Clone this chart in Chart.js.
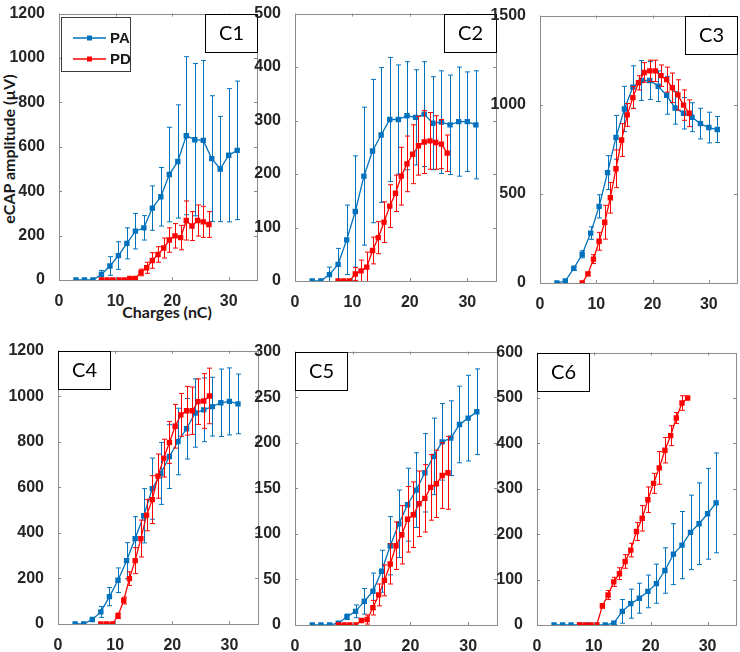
<!DOCTYPE html>
<html>
<head>
<meta charset="utf-8">
<script src="https://cdn.jsdelivr.net/npm/chart.js@4.4.0/dist/chart.umd.min.js"></script>
<style>
  body { margin: 0; background: #fff; width: 740px; height: 652px; position: relative; overflow: hidden; }
  canvas { position: absolute; }
  .title { position: absolute; font-family: Lato, "Noto Sans", sans-serif; font-weight: bold; font-size: 16px; color: #1a1a1a; white-space: nowrap; text-align: center; }
  #ytitle { width: 220px; left: -101px; top: 138px; line-height: 22px; transform: rotate(-90deg); }
  #xtitle { width: 200px; left: 67px; top: 302px; line-height: 20px; }
</style>
</head>
<body>
<div class="title" id="ytitle">eCAP amplitude (µV)</div>
<div class="title" id="xtitle">Charges (nC)</div>
<script>
// charges (nC) for the two stimulation modes
const paCharge = [3, 4.5, 6, 7.5, 9, 10.5, 12, 13.5, 15, 16.5, 18, 19.5, 21, 22.5, 24, 25.5, 27, 28.5, 30, 31.5]
const pdCharge = [7.5, 8.5, 9.5, 10.5, 11.5, 12.5, 13.5, 14.5, 15.5, 16.5, 17.5, 18.5, 19.5, 20.5, 21.5, 22.5, 23.5, 24.5, 25.5, 26.5]
const xTicks = [0, 10, 20, 30]

// eCAP amplitude (uV), mean and error
const c1PA = [0, 0, 0, 25, 63, 110, 165, 220, 235, 324, 375, 475, 534, 650, 632, 629, 547, 500, 562, 584]
const c1PAErr = [0, 0, 0, 18, 42, 62, 70, 80, 55, 100, 132, 213, 255, 356, 343, 360, 283, 237, 300, 312]
const c1PD = [0, 0, 0, 0, 0, 7, 7, 34, 55, 88, 115, 144, 180, 199, 191, 268, 243, 268, 262, 250]
const c1PDErr = [0, 0, 0, 0, 0, 5, 5, 15, 25, 35, 35, 45, 55, 55, 55, 88, 65, 70, 70, 58]

const c2PA = [0, 0, 12, 31, 77, 130, 196, 243, 273, 302, 302, 309, 306, 312, 295, 297, 292, 298, 298, 292]
const c2PAErr = [0, 0, 14, 30, 65, 104, 129, 134, 126, 116, 102, 101, 89, 98, 87, 96, 93, 102, 93, 101]
const c2PD = [0, 0, 0, 13, 19, 26, 57, 81, 110, 140, 164, 196, 219, 237, 253, 260, 262, 259, 256, 239]
const c2PDErr = [0, 0, 0, 12, 20, 28, 25, 30, 38, 40, 34, 54, 52, 55, 55, 59, 53, 50, 46, 34]

const c3PA = [0, 11, 82, 161, 280, 430, 619, 817, 976, 1099, 1136, 1136, 1104, 1053, 982, 952, 930, 894, 872, 861]
const c3PAErr = [0, 8, 12, 20, 35, 65, 95, 123, 127, 119, 112, 106, 86, 106, 91, 88, 81, 86, 86, 73]
const c3PD = [0, 51, 134, 234, 341, 478, 641, 802, 943, 1040, 1123, 1181, 1190, 1190, 1163, 1141, 1095, 1055, 998, 952]
const c3PDErr = [0, 10, 25, 50, 95, 86, 106, 92, 64, 62, 40, 55, 60, 60, 60, 70, 83, 85, 85, 75]

const c4PA = [0, 0, 20, 53, 120, 192, 278, 375, 475, 594, 661, 735, 801, 857, 926, 940, 954, 971, 977, 966]
const c4PAErr = [0, 0, 8, 24, 40, 54, 79, 96, 119, 134, 136, 140, 146, 133, 150, 140, 129, 148, 147, 131]
const c4PD = [0, 0, 0, 36, 103, 199, 278, 375, 478, 546, 649, 728, 797, 868, 918, 936, 936, 976, 979, 1001]
const c4PDErr = [0, 0, 0, 12, 15, 30, 57, 81, 69, 105, 97, 83, 92, 96, 94, 107, 104, 100, 120, 122]

const c5PA = [0, 0, 0, 2, 9, 15, 26, 37, 59, 87, 111, 132, 148, 167, 185, 201, 205, 220, 227, 234]
const c5PAErr = [0, 0, 0, 1, 3, 7, 14, 20, 23, 32, 37, 40, 41, 43, 42, 42, 41, 42, 47, 47]
const c5PD = [0, 0, 0, 0, 5, 6, 19, 33, 49, 67, 87, 99, 116, 121, 133, 139, 151, 155, 164, 167]
const c5PDErr = [0, 0, 0, 0, 2, 5, 8, 12, 17, 22, 26, 32, 36, 36, 36, 37, 36, 37, 36, 40]

const c6PA = [0, 0, 0, 0, 0, 0, 0, 4, 30, 47, 59, 74, 91, 120, 156, 176, 204, 223, 245, 269]
const c6PAErr = [0, 0, 0, 0, 0, 0, 0, 3, 26, 32, 33, 36, 43, 50, 67, 74, 82, 90, 100, 110]
const c6PD = [0, 0, 0, 0, 42, 66, 95, 113, 140, 165, 206, 235, 276, 312, 346, 385, 417, 456, 489, 500]
const c6PDErr = [0, 0, 0, 0, 5, 10, 10, 13, 15, 15, 20, 28, 28, 22, 36, 28, 22, 12, 16, 0]

const BLUE = '#0072bd'
const RED = '#ff0000'
const TICK_FONT = { family: '"Liberation Sans", Arial, sans-serif', size: 16, weight: 'bold' }

// plot area of each panel in page pixels: left, top, right, bottom
const panels = [
  { name: 'C1', box: [59, 7, 258, 280], yMax: 1200, yStep: 200, pa: c1PA, paErr: c1PAErr, pd: c1PD, pdErr: c1PDErr, tag: 'right', legend: true },
  { name: 'C2', box: [295, 7, 497, 281], yMax: 500, yStep: 100, pa: c2PA, paErr: c2PAErr, pd: c2PD, pdErr: c2PDErr, tag: 'right' },
  { name: 'C3', box: [540, 9, 738, 283], yMax: 1500, yStep: 500, pa: c3PA, paErr: c3PAErr, pd: c3PD, pdErr: c3PDErr, tag: 'right' },
  { name: 'C4', box: [58, 344, 259, 624], yMax: 1200, yStep: 200, pa: c4PA, paErr: c4PAErr, pd: c4PD, pdErr: c4PDErr, tag: 'left' },
  { name: 'C5', box: [295, 345, 498, 625], yMax: 300, yStep: 50, pa: c5PA, paErr: c5PAErr, pd: c5PD, pdErr: c5PDErr, tag: 'left' },
  { name: 'C6', box: [537, 346, 737, 625], yMax: 600, yStep: 100, pa: c6PA, paErr: c6PAErr, pd: c6PD, pdErr: c6PDErr, tag: 'left' }
]

const PAD_L = 52, PAD_T = 9, PAD_R = 3, PAD_B = 26

const errorBars = {
  id: 'errorBars',
  afterDatasetDraw(chart, args) {
    const ds = chart.data.datasets[args.index]
    if (!ds.errors) return
    const { ctx, chartArea } = chart
    const x = chart.scales.x, y = chart.scales.y
    ctx.save()
    ctx.beginPath()
    ctx.rect(chartArea.left, chartArea.top, chartArea.width, chartArea.height)
    ctx.clip()
    ctx.strokeStyle = ds.borderColor
    ctx.lineWidth = 1
    ctx.beginPath()
    ds.data.forEach((p, i) => {
      const e = ds.errors[i]
      if (!e) return
      const px = Math.round(x.getPixelForValue(p.x)) + 0.5
      const top = y.getPixelForValue(p.y + e)
      const bot = y.getPixelForValue(p.y - e)
      ctx.moveTo(px, top); ctx.lineTo(px, bot)
      ctx.moveTo(px - 2.5, top); ctx.lineTo(px + 2.5, top)
      ctx.moveTo(px - 2.5, bot); ctx.lineTo(px + 2.5, bot)
    })
    ctx.stroke()
    ctx.restore()
  }
}

const frame = {
  id: 'frame',
  afterDraw(chart, args, opts) {
    const { ctx, chartArea: a } = chart
    const x = chart.scales.x, y = chart.scales.y
    ctx.save()
    ctx.strokeStyle = '#8c8c8c'
    ctx.lineWidth = 1
    ctx.strokeRect(Math.round(a.left) + 0.5, Math.round(a.top) + 0.5, Math.round(a.width), Math.round(a.height))
    ctx.beginPath()
    x.ticks.forEach(t => {
      const px = Math.round(x.getPixelForValue(t.value)) + 0.5
      ctx.moveTo(px, a.bottom); ctx.lineTo(px, a.bottom - 3)
      ctx.moveTo(px, a.top); ctx.lineTo(px, a.top + 3)
    })
    y.ticks.forEach(t => {
      const py = Math.round(y.getPixelForValue(t.value)) + 0.5
      ctx.moveTo(a.left, py); ctx.lineTo(a.left + 3, py)
      ctx.moveTo(a.right, py); ctx.lineTo(a.right - 3, py)
    })
    ctx.stroke()

    // panel tag
    const w = 52, h = 38
    const bx = opts.tag === 'right' ? Math.round(a.right) - w : Math.round(a.left)
    const by = Math.round(a.top)
    ctx.fillStyle = '#fff'
    ctx.fillRect(bx, by, w, h)
    ctx.strokeStyle = '#000'
    ctx.strokeRect(bx + 0.5, by + 0.5, w, h)
    ctx.fillStyle = '#000'
    ctx.font = '20px Lato, "Noto Sans", sans-serif'
    ctx.textAlign = 'center'
    ctx.textBaseline = 'middle'
    ctx.fillText(opts.name, bx + w / 2 + 0.5, by + h / 2 + 1)

    if (opts.legend) {
      const lx = Math.round(a.left) + 2, ly = Math.round(a.top) + 3
      ctx.fillStyle = '#fff'
      ctx.fillRect(lx, ly, 69, 54)
      ctx.strokeStyle = '#3c3c3c'
      ctx.strokeRect(lx + 0.5, ly + 0.5, 69, 54)
      const rows = [['PA', BLUE, 21], ['PD', RED, 42]]
      ctx.font = 'bold 15px ' + TICK_FONT.family
      ctx.textAlign = 'left'
      rows.forEach(([label, color, dy]) => {
        ctx.strokeStyle = color
        ctx.fillStyle = color
        ctx.lineWidth = 1.3
        ctx.beginPath()
        ctx.moveTo(lx + 12, ly + dy); ctx.lineTo(lx + 45, ly + dy)
        ctx.stroke()
        ctx.fillRect(lx + 26, ly + dy - 2.5, 5, 5)
        ctx.fillStyle = '#1a1a1a'
        ctx.fillText(label, lx + 49, ly + dy + 1)
      })
    }
    ctx.restore()
  }
}

function series(xs, ys) {
  return xs.map((x, i) => ({ x, y: ys[i] }))
}

panels.forEach(p => {
  const [l, t, r, b] = p.box
  const canvas = document.createElement('canvas')
  canvas.width = r - l + PAD_L + PAD_R
  canvas.height = b - t + PAD_T + PAD_B
  canvas.style.left = (l - PAD_L) + 'px'
  canvas.style.top = (t - PAD_T) + 'px'
  document.body.appendChild(canvas)

  const line = (data, errors, color, order) => ({
    data, errors, order,
    borderColor: color,
    backgroundColor: color,
    borderWidth: 1.3,
    pointStyle: 'rect',
    pointRadius: 3.8,
    pointBorderWidth: 0,
    tension: 0
  })

  new Chart(canvas, {
    type: 'line',
    data: {
      datasets: [
        line(series(paCharge, p.pa), p.paErr, BLUE, 2),
        line(series(pdCharge, p.pd), p.pdErr, RED, 1)
      ]
    },
    options: {
      responsive: false,
      animation: false,
      devicePixelRatio: 1,
      layout: { padding: { top: PAD_T, right: PAD_R, left: 0, bottom: 0 } },
      plugins: {
        legend: { display: false },
        tooltip: { enabled: false },
        frame: { name: p.name, tag: p.tag, legend: !!p.legend }
      },
      scales: {
        x: {
          type: 'linear',
          min: 0,
          max: 35,
          grid: { display: false },
          border: { display: false },
          afterBuildTicks: s => { s.ticks = xTicks.map(v => ({ value: v })) },
          afterFit: s => { s.height = PAD_B },
          ticks: { font: TICK_FONT, color: '#262626', padding: 4, maxRotation: 0, autoSkip: false, callback: v => String(v) }
        },
        y: {
          min: 0,
          max: p.yMax,
          grid: { display: false },
          border: { display: false },
          afterFit: s => { s.width = PAD_L },
          ticks: { stepSize: p.yStep, font: TICK_FONT, color: '#262626', padding: 6, callback: v => String(v) }
        }
      }
    },
    plugins: [errorBars, frame]
  })
})
</script>
</body>
</html>
